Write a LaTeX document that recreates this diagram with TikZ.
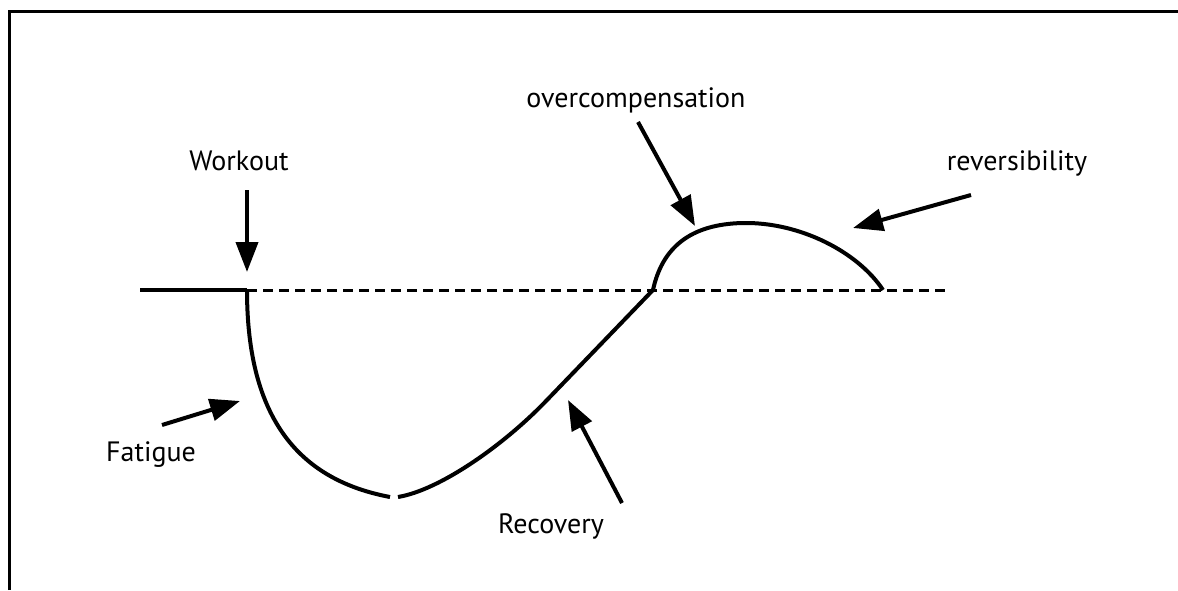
\documentclass[tikz,border=0pt]{standalone}
\usepackage{fontspec}
\setmainfont{PT Sans}
\usetikzlibrary{arrows.meta}

\tikzset{
  curve/.style={line width=2pt},
  arr/.style={line width=2pt,-{Triangle[length=15pt,width=11pt]}},
  lbl/.style={anchor=base,inner sep=0pt,font=\fontsize{14}{16}\selectfont}
}

\begin{document}
\begin{tikzpicture}[x=.5pt,y=-.5pt]
    \useasboundingbox (0,0) rectangle (1178,590);

    % frame
    \draw[line width=1.5pt] (9,590) -- (9,11) -- (1178,11);

    % baseline
    \path (140,290) coordinate (start) (247,290) coordinate (work)
          (653,290) coordinate (cross) (883,290) coordinate (rev)
          (945,290) coordinate (end);
    \draw[curve] (start) -- (work);
    \draw[line width=1.5pt,dash pattern=on 5pt off 3pt] (work) -- (end);

    % curve
    \path (390,497) coordinate (low1) (398,497) coordinate (low2)
          (547,400) coordinate (rise) (743,223) coordinate (peak);
    \draw[curve] (work) .. controls (247,420) and (300,480) .. (low1);
    \draw[curve] (low2) .. controls (440,490) and (504,445) .. (rise) -- (cross);
    \draw[curve] (cross) .. controls (662,248) and (690,224) .. (peak)
                 .. controls (800,222) and (858,252) .. (rev);

    % labels
    \node[lbl] (workout) at (239,170) {Workout};
    \node[lbl] (fatigue) at (151,461) {Fatigue};
    \node[lbl] (recovery) at (551,533) {Recovery};
    \node[lbl] (overcomp) at (636,107) {overcompensation};
    \node[lbl] (reversib) at (1017,170) {reversibility};

    % arrows
    \path (247,190) coordinate (w0) (247,272) coordinate (w1);
    \path (162,425) coordinate (f0) (240,401) coordinate (f1);
    \path (622,503) coordinate (r0) (568,400) coordinate (r1);
    \path (638,122) coordinate (o0) (695,226) coordinate (o1);
    \path (971,195) coordinate (v0) (853,228) coordinate (v1);
    \foreach \a/\b in {w0/w1,f0/f1,r0/r1,o0/o1,v0/v1}
    { \draw[arr] (\a) -- (\b); }
\end{tikzpicture}
\end{document}
